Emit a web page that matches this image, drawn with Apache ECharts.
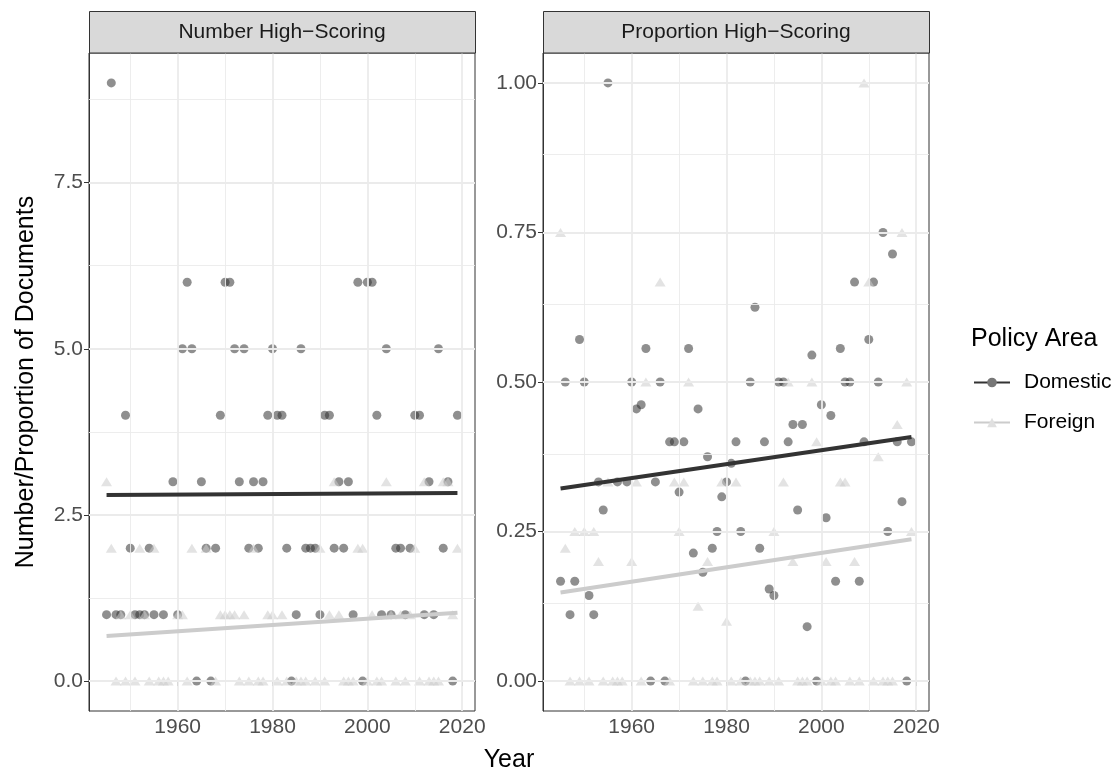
<!DOCTYPE html>
<html><head><meta charset="utf-8">
<script src="https://cdn.jsdelivr.net/npm/echarts@6/dist/echarts.min.js"></script>
<style>html,body{margin:0;padding:0;background:#fff}#c{width:1119px;height:772px}</style>
</head><body><div id="c"></div>
<script>
const years = [1945,1946,1947,1948,1949,1950,1951,1952,1953,1954,
  1955,1956,1957,1958,1959,1960,1961,1962,1963,1964,
  1965,1966,1967,1968,1969,1970,1971,1972,1973,1974,
  1975,1976,1977,1978,1979,1980,1981,1982,1983,1984,
  1985,1986,1987,1988,1989,1990,1991,1992,1993,1994,
  1995,1996,1997,1998,1999,2000,2001,2002,2003,2004,
  2005,2006,2007,2008,2009,2010,2011,2012,2013,2014,
  2015,2016,2017,2018,2019];
const domesticNumber = [1,9,1,1,4,2,1,1,1,2,
  1,null,1,null,3,1,5,6,5,0,
  3,2,0,2,4,6,6,5,3,5,
  2,3,2,3,4,5,4,4,2,0,
  1,5,2,2,2,1,4,4,2,3,
  2,3,1,6,0,6,6,4,1,5,
  1,2,2,1,2,4,4,1,3,1,
  5,2,3,0,4];
const foreignNumber = [3,2,0,1,0,1,0,2,1,0,
  2,0,0,0,null,1,1,0,2,null,
  null,2,null,0,1,1,1,1,0,1,
  0,2,0,0,1,1,0,1,0,null,
  0,0,0,null,0,2,0,1,3,1,
  0,0,0,2,2,0,1,0,0,3,
  1,0,1,0,1,2,0,3,0,0,
  0,3,3,1,2];
const domesticProportion = [0.167,0.5,0.111,0.167,0.571,0.5,0.143,0.111,0.333,0.286,
  1.0,null,0.333,null,0.333,0.5,0.455,0.462,0.556,0,
  0.333,0.5,0,0.4,0.4,0.316,0.4,0.556,0.214,0.455,
  0.182,0.375,0.222,0.25,0.308,0.333,0.364,0.4,0.25,0,
  0.5,0.625,0.222,0.4,0.154,0.143,0.5,0.5,0.4,0.429,
  0.286,0.429,0.091,0.545,0,0.462,0.273,0.444,0.167,0.556,
  0.5,0.5,0.667,0.167,0.4,0.571,0.667,0.5,0.75,0.25,
  0.714,0.4,0.3,0,0.4];
const foreignProportion = [0.75,0.222,0,0.25,0,0.25,0,0.25,0.2,0,
  0.333,0,0,0,null,0.2,0.333,0,0.5,null,
  null,0.667,null,0,0.333,0.25,0.333,0.5,0,0.125,
  0,0.2,0,0,0.333,0.1,0,0.333,0,null,
  0,0,0,null,0,0.25,0,0.333,0.5,0.2,
  0,0,0,0.5,0.4,0,0.2,0,0,0.333,
  0.333,0,0.2,0,1.0,0.667,0,0.375,0,0,
  0,0.429,0.75,0.5,0.25];
// fitted linear trends (value at first and last year)
const fitYears = [1945, 2019];
const fitDomesticNumber = [2.80, 2.83];
const fitForeignNumber = [0.68, 1.03];
const fitDomesticProportion = [0.322, 0.408];
const fitForeignProportion = [0.148, 0.237];
const xTicks = [1960, 1980, 2000, 2020];
const xMinorTicks = [1950, 1970, 1990, 2010];
const numberTicks = [0, 2.5, 5, 7.5];
const numberMinorTicks = [1.25, 3.75, 6.25, 8.75];
const propTicks = [0, 0.25, 0.5, 0.75, 1];
const propMinorTicks = [0.125, 0.375, 0.625, 0.875];
const panelTitles = ['Number High\u2212Scoring', 'Proportion High\u2212Scoring'];
const seriesNames = ['Domestic', 'Foreign'];

const FONT = '"Liberation Sans", Arial, Helvetica, sans-serif';
const DOM_COLOR = '#333333', FOR_COLOR = '#cccccc';
const PANEL_TOP = 53, PANEL_H = 658, PANEL_W = 386;
const PANEL_LEFT = [89, 543];

function pairs(xs, ys) {
  const out = [];
  for (let i = 0; i < xs.length; i++) if (ys[i] !== null) out.push([xs[i], ys[i]]);
  return out;
}
function gridLines(xMaj, xMin, yMaj, yMin) {
  const d = [];
  const minor = {color: '#ebebeb', width: 0.9, type: 'solid'};
  const major = {color: '#ebebeb', width: 1.8, type: 'solid'};
  xMin.forEach(v => d.push({xAxis: v, lineStyle: minor}));
  yMin.forEach(v => d.push({yAxis: v, lineStyle: minor}));
  xMaj.forEach(v => d.push({xAxis: v, lineStyle: major}));
  yMaj.forEach(v => d.push({yAxis: v, lineStyle: major}));
  return d;
}

const chart = echarts.init(document.getElementById('c'), null, {renderer: 'canvas'});

function xAxisCfg(i) {
  return {
    gridIndex: i, type: 'value', min: 1941.3, max: 2022.7,
    axisLine: {show: true, lineStyle: {color: '#333333', width: 1}},
    splitLine: {show: false},
    axisTick: {show: true, customValues: xTicks, length: 5, lineStyle: {color: '#333333', width: 1}},
    axisLabel: {customValues: xTicks, color: '#4d4d4d', fontSize: 21, fontFamily: FONT, margin: 6,
      formatter: v => String(Math.round(v))}
  };
}
function yAxisCfg(i, min, max, ticks, digits, name) {
  return {
    gridIndex: i, type: 'value', min: min, max: max,
    name: name, nameLocation: 'middle', nameGap: 50, nameRotate: 90,
    nameTextStyle: {color: '#000', fontSize: 25, fontFamily: FONT},
    axisLine: {show: true, lineStyle: {color: '#333333', width: 1}},
    splitLine: {show: false},
    axisTick: {show: true, customValues: ticks, length: 5, lineStyle: {color: '#333333', width: 1}},
    axisLabel: {customValues: ticks, color: '#4d4d4d', fontSize: 21, fontFamily: FONT, margin: 6,
      formatter: v => Number(v).toFixed(digits)}
  };
}

const series = [];
const panels = [
  {dom: domesticNumber, frn: foreignNumber, fd: fitDomesticNumber, ff: fitForeignNumber,
   yMaj: numberTicks, yMin: numberMinorTicks},
  {dom: domesticProportion, frn: foreignProportion, fd: fitDomesticProportion, ff: fitForeignProportion,
   yMaj: propTicks, yMin: propMinorTicks}
];
panels.forEach((p, i) => {
  series.push({
    name: 'gridlines', type: 'line', xAxisIndex: i, yAxisIndex: i, data: [], z: 1,
    silent: true, animation: false,
    markLine: {silent: true, symbol: ['none', 'none'], label: {show: false}, animation: false,
      emphasis: {disabled: true}, data: gridLines(xTicks, xMinorTicks, p.yMaj, p.yMin)}
  });
});
panels.forEach((p, i) => {
  series.push({
    name: seriesNames[0], type: 'line', xAxisIndex: i, yAxisIndex: i, z: 5,
    data: pairs(fitYears, p.fd), showSymbol: false, symbol: 'circle', symbolSize: 7,
    itemStyle: {color: '#777777'}, lineStyle: {color: DOM_COLOR, width: 4}, animation: false, silent: true
  });
  series.push({
    name: seriesNames[1], type: 'line', xAxisIndex: i, yAxisIndex: i, z: 5,
    data: pairs(fitYears, p.ff), showSymbol: false, symbol: 'triangle', symbolSize: 7,
    itemStyle: {color: '#e0e0e0'}, lineStyle: {color: FOR_COLOR, width: 4}, animation: false, silent: true
  });
});
panels.forEach((p, i) => {
  series.push({
    name: seriesNames[0], type: 'scatter', xAxisIndex: i, yAxisIndex: i, z: 3,
    data: pairs(years, p.dom), symbol: 'circle', symbolSize: 9,
    itemStyle: {color: DOM_COLOR, opacity: 0.55}, animation: false, silent: true
  });
  series.push({
    name: seriesNames[1], type: 'scatter', xAxisIndex: i, yAxisIndex: i, z: 3,
    data: pairs(years, p.frn), symbol: 'triangle', symbolSize: [11, 9],
    itemStyle: {color: FOR_COLOR, opacity: 0.55}, animation: false, silent: true
  });
});

const graphics = [];
panelTitles.forEach((t, i) => {
  graphics.push({type: 'rect', shape: {x: PANEL_LEFT[i] + 0.5, y: 11.5, width: PANEL_W, height: PANEL_TOP - 11.5},
    style: {fill: '#d9d9d9', stroke: '#333333', lineWidth: 1}, z: 10});
  graphics.push({type: 'text', x: PANEL_LEFT[i] + PANEL_W / 2, y: (11 + PANEL_TOP) / 2, z: 11,
    style: {text: t, fill: '#1a1a1a', font: '21px ' + FONT, textAlign: 'center', textVerticalAlign: 'middle'}});
});
graphics.push({type: 'text', x: (PANEL_LEFT[0] + PANEL_LEFT[1] + PANEL_W) / 2, y: 760, z: 11,
  style: {text: 'Year', fill: '#000', font: '25px ' + FONT, textAlign: 'center', textVerticalAlign: 'middle'}});

chart.setOption({
  animation: false,
  backgroundColor: '#ffffff',
  title: {text: 'Policy Area', left: 966, top: 322, textStyle: {color: '#000', fontSize: 25, fontWeight: 'normal', fontFamily: FONT}},
  legend: {
    data: seriesNames, orient: 'vertical', left: 968, top: 367, itemWidth: 36, itemHeight: 12, itemGap: 19,
    selectedMode: false,
    textStyle: {color: '#000', fontSize: 21, fontFamily: FONT, padding: [0, 0, 0, 9]}
  },
  grid: PANEL_LEFT.map(l => ({left: l, top: PANEL_TOP, width: PANEL_W, height: PANEL_H, show: true,
    borderColor: '#333333', borderWidth: 1, backgroundColor: '#ffffff', containLabel: false})),
  xAxis: [xAxisCfg(0), xAxisCfg(1)],
  yAxis: [yAxisCfg(0, -0.45, 9.45, numberTicks, 1, 'Number/Proportion of Documents'),
          yAxisCfg(1, -0.05, 1.05, propTicks, 2, '')],
  graphic: graphics,
  series: series
});
</script></body></html>
